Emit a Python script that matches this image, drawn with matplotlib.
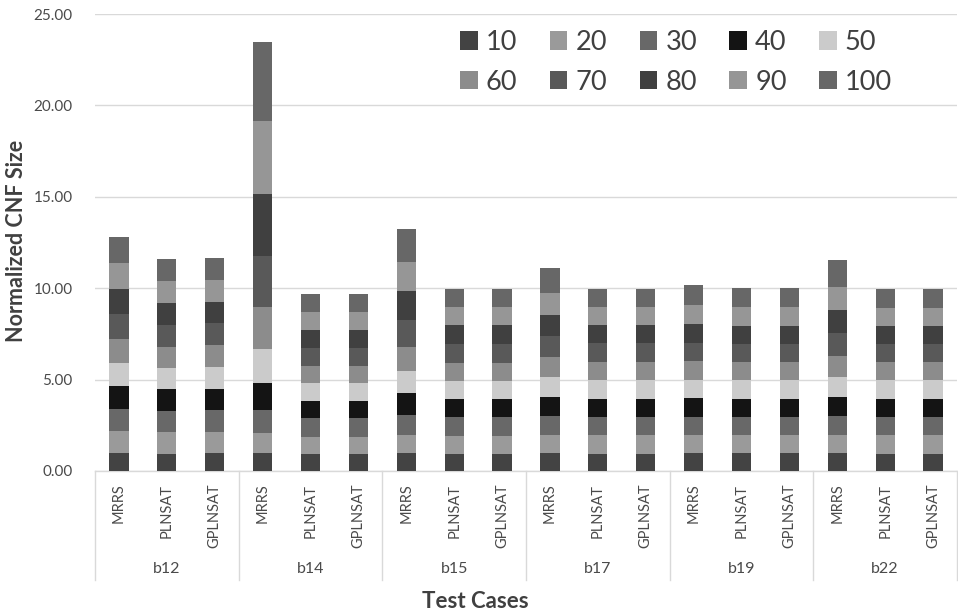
import numpy as np
import matplotlib
matplotlib.use("Agg")
import matplotlib.pyplot as plt
from matplotlib.patches import Patch

plt.rcParams["font.family"] = ["Lato", "DejaVu Sans"]

# 数据：每个柱子的 10 个分段（阈值 10..100）
groups = ["b12", "b14", "b15", "b17", "b19", "b22"]
methods = ["MRRS", "PLNSAT", "GPLNSAT"]
levels = ["10", "20", "30", "40", "50", "60", "70", "80", "90", "100"]

# 每一行是一个分段，18 个柱子依次为 b12(MRRS, PLNSAT, GPLNSAT), b14(...), ...
seg_10 = [0.97, 0.95, 0.96, 0.97, 0.92, 0.92, 0.97, 0.95, 0.95, 0.97, 0.93, 0.93, 0.97, 0.97, 0.97, 0.97, 0.92, 0.92]
seg_20 = [1.22, 1.17, 1.17, 1.12, 0.95, 0.95, 0.99, 0.99, 0.99, 0.99, 1.03, 1.03, 0.99, 0.99, 0.99, 0.99, 1.04, 1.04]
seg_30 = [1.20, 1.16, 1.19, 1.23, 1.01, 1.01, 1.10, 0.99, 0.99, 1.04, 1.01, 1.01, 1.01, 1.01, 1.01, 1.05, 1.01, 1.01]
seg_40 = [1.25, 1.19, 1.17, 1.50, 0.95, 0.95, 1.21, 0.99, 0.99, 1.07, 0.99, 0.99, 1.01, 0.99, 0.99, 1.06, 0.99, 0.99]
seg_50 = [1.28, 1.16, 1.19, 1.85, 0.99, 0.99, 1.19, 0.99, 0.99, 1.06, 1.01, 1.01, 1.00, 1.01, 1.01, 1.09, 1.01, 1.01]
seg_60 = [1.32, 1.18, 1.19, 2.28, 0.95, 0.95, 1.35, 1.01, 1.01, 1.10, 0.99, 0.99, 1.03, 1.00, 1.00, 1.14, 0.99, 0.99]
seg_70 = [1.33, 1.19, 1.21, 2.80, 0.97, 0.97, 1.47, 1.05, 1.05, 1.13, 1.02, 1.02, 1.01, 0.99, 0.99, 1.23, 1.00, 1.00]
seg_80 = [1.40, 1.21, 1.19, 3.39, 0.97, 0.97, 1.54, 0.99, 0.99, 1.19, 0.99, 0.99, 1.02, 0.99, 0.99, 1.28, 0.99, 0.99]
seg_90 = [1.39, 1.20, 1.19, 3.98, 1.01, 1.01, 1.63, 0.99, 0.99, 1.21, 0.99, 0.99, 1.05, 1.04, 1.04, 1.28, 0.99, 0.99]
seg_100 = [1.46, 1.21, 1.21, 4.36, 0.99, 0.99, 1.81, 1.02, 1.02, 1.36, 1.01, 1.01, 1.07, 1.01, 1.01, 1.47, 1.03, 1.03]

segments = [seg_10, seg_20, seg_30, seg_40, seg_50, seg_60, seg_70, seg_80, seg_90, seg_100]
colors = ["#434343", "#9a9a9a", "#686868", "#141414", "#cbcbcb",
          "#8c8c8c", "#595959", "#404040", "#969696", "#676767"]

TEXT_GREY = "#4a4a4a"
LINE_GREY = "#d9d9d9"

fig = plt.figure(figsize=(9.58, 6.13), dpi=100)
ax = fig.add_axes([95 / 958, 1 - 471 / 613, 862 / 958, 457 / 613])

n_bars = len(groups) * len(methods)
x = np.arange(n_bars)
bottom = np.zeros(n_bars)
for seg, col, lab in zip(segments, colors, levels):
    ax.bar(x, seg, width=0.4, bottom=bottom, color=col, label=lab,
           edgecolor="none", zorder=3)
    bottom += np.array(seg)

ax.set_xlim(-0.5, n_bars - 0.5)
ax.set_ylim(0, 25)
ax.set_yticks(np.arange(0, 25.1, 5))
ax.set_yticklabels([f"{v:.2f}" for v in np.arange(0, 25.1, 5)])
ax.grid(axis="y", color=LINE_GREY, linewidth=1, zorder=0)
ax.tick_params(axis="y", length=0, pad=16, labelsize=11, labelcolor=TEXT_GREY)

for side in ("left", "right", "top"):
    ax.spines[side].set_visible(False)
ax.spines["bottom"].set_color(LINE_GREY)
ax.spines["bottom"].set_linewidth(1)

# 分类轴：方法名 + 分组名
ax.set_xticks(x)
ax.set_xticklabels(methods * len(groups), rotation=90, va="top")
ax.tick_params(axis="x", length=0, pad=9, labelsize=10.5, labelcolor=TEXT_GREY)

trans = ax.get_xaxis_transform()
for b in np.arange(-0.5, n_bars, 3):
    ax.plot([b, b], [0, -0.2385], color=LINE_GREY, linewidth=1,
            transform=trans, clip_on=False)
for i, g in enumerate(groups):
    ax.text(i * 3 + 1, -0.2144, g, transform=trans, ha="center", va="center",
            fontsize=11.5, color=TEXT_GREY)

fig.text(17 / 958, 1 - 241 / 613, "Normalized CNF Size", rotation=90,
         ha="center", va="center", fontsize=15.5, fontweight="bold", color="#404040")
fig.text(475 / 958, 1 - 601 / 613, "Test Cases", ha="center", va="center",
         fontsize=16, fontweight="bold", color="#404040")

# 图例按行排列（matplotlib 按列填充，需重新排序）
handles = [Patch(facecolor=c, edgecolor="none") for c in colors]
order = [0, 5, 1, 6, 2, 7, 3, 8, 4, 9]
ax.legend([handles[i] for i in order], [levels[i] for i in order],
          ncol=5, loc="upper left", bbox_to_anchor=(460 / 958, 1 - 30 / 613),
          bbox_transform=fig.transFigure, frameon=False, fontsize=19.5,
          handlelength=0.65, handleheight=0.65, handletextpad=0.3,
          columnspacing=1.2, labelspacing=0.55, borderpad=0, borderaxespad=0,
          labelcolor="#404040")

fig.savefig("out.png", dpi=100)
